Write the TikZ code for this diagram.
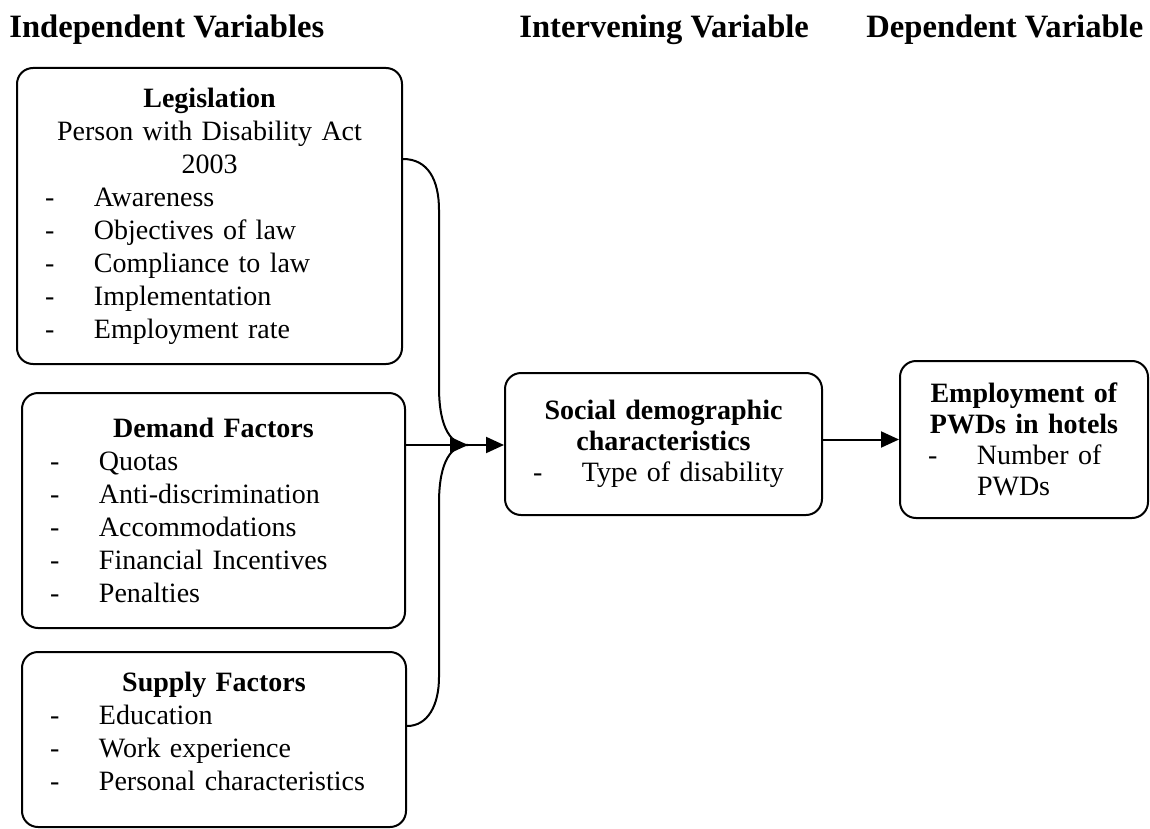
\documentclass[tikz,border=0pt]{standalone}
\usepackage{fontspec}
\setmainfont{Liberation Serif}
\usetikzlibrary{shapes,arrows,arrows.meta,positioning,calc}

\newcommand{\boxhead}[1]{\makebox[\linewidth][c]{\textbf{#1}}}
\newcommand{\boxmid}[1]{\makebox[\linewidth][c]{#1}}
\newcommand{\dashitem}[1]{\makebox[24.5pt][l]{-}#1}

\begin{document}
\begin{tikzpicture}[x=0.5pt,y=-0.5pt]
        % Define styles
        \tikzstyle{panel} = [rectangle, draw, line width=1pt, rounded corners=8pt,
            align=left, inner xsep=14pt, inner ysep=0pt,
            font=\fontsize{14}{16.5}\selectfont]
        \tikzstyle{heading} = [anchor=base west, inner sep=0pt,
            font=\fontsize{16.3}{19}\selectfont\bfseries]
        \tikzstyle{arrow} = [line width=1pt,-{Triangle[length=9pt,width=8pt]}]
        \tikzstyle{link} = [line width=1pt]

        \useasboundingbox (0,0) rectangle (1150,829);

        % Headings
        \node [heading] (hind) at (9,38) {Independent Variables};
        \node [heading] (hint) at (519,38) {Intervening Variable};
        \node [heading] (hdep) at (866,38) {Dependent Variable};

        % Nodes
        \node [panel, text width=164.5pt, minimum height=148pt] (legis) at (209.5,216)
            {\boxhead{Legislation}\\ \boxmid{Person with Disability Act}\\ \boxmid{2003}\\
             \dashitem{Awareness}\\ \dashitem{Objectives of law}\\
             \dashitem{Compliance to law}\\ \dashitem{Implementation}\\
             \dashitem{Employment rate}};
        \node [panel, text width=163.5pt, minimum height=117.5pt] (demand) at (213.5,510.5)
            {\boxhead{Demand Factors}\\ \dashitem{Quotas}\\ \dashitem{Anti-discrimination}\\
             \dashitem{Accommodations}\\ \dashitem{Financial Incentives}\\
             \dashitem{Penalties}};
        \node [panel, text width=164pt, minimum height=87.5pt] (supply) at (214,739.5)
            {\boxhead{Supply Factors}\\ \dashitem{Education}\\ \dashitem{Work experience}\\
             \dashitem{Personal characteristics}\\[-8pt]\mbox{}};
        \node [panel, text width=130.5pt, minimum height=71pt,
            font=\fontsize{14}{15.5}\selectfont] (social) at (663.5,444)
            {\boxhead{Social demographic}\\ \boxhead{characteristics}\\
             \dashitem{Type of disability}};
        \node [panel, text width=96pt, minimum height=78.5pt,
            font=\fontsize{14}{15.5}\selectfont] (employ) at (1024,439.5)
            {\boxhead{Employment of}\\ \boxhead{PWDs in hotels}\\
             \dashitem{Number of}\\ \hspace*{24.5pt}PWDs};

        % Joining point
        \coordinate (merge) at (468,445);
        \coordinate (legout) at ($(legis.east)+(0,-57)$);
        \coordinate (supout) at ($(supply.east)+(0,-13.5)$);

        % Arrows
        \draw [link] (legout) .. controls (428,159) and (439,180) .. (439,210)
            -- (439,387) .. controls (439,430) and (452,445) .. (merge);
        \draw [link] (supout) .. controls (428,726) and (439,705) .. (439,677)
            -- (439,503) .. controls (439,460) and (452,445) .. (merge);
        \draw [arrow] (demand.east |- merge) -- (merge);
        \draw [arrow] (merge) -- (social.west |- merge);
        \draw [arrow] (social.east |- employ.west) -- (employ.west);
    \end{tikzpicture}
\end{document}
